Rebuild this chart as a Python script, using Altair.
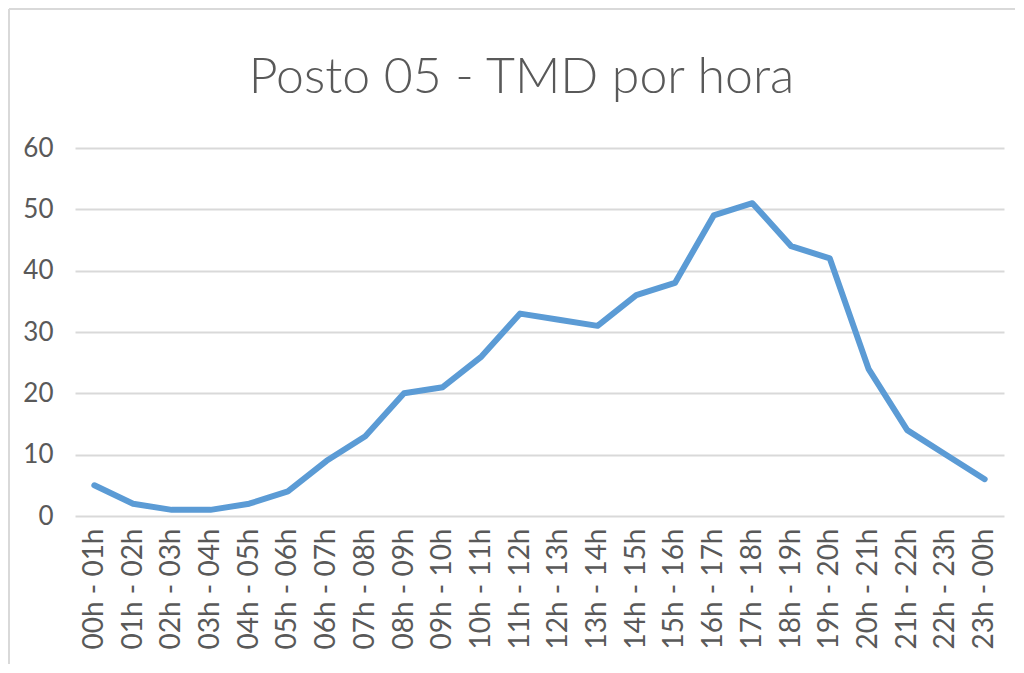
import altair as alt
import pandas as pd

hours = ["00h - 01h", "01h - 02h", "02h - 03h", "03h - 04h", "04h - 05h", "05h - 06h",
         "06h - 07h", "07h - 08h", "08h - 09h", "09h - 10h", "10h - 11h", "11h - 12h",
         "12h - 13h", "13h - 14h", "14h - 15h", "15h - 16h", "16h - 17h", "17h - 18h",
         "18h - 19h", "19h - 20h", "20h - 21h", "21h - 22h", "22h - 23h", "23h - 00h"]
tmd = [5, 2, 1, 1, 2, 4, 9, 13, 20, 21, 26, 33, 32, 31, 36, 38, 49, 51, 44, 42, 24, 14, 10, 6]

df = pd.DataFrame({"hora": hours, "tmd": tmd})

FONT = "Lato"
GREY = "#595959"
BORDER = "#d9d9d9"

line = alt.Chart(df).mark_line(color="#5b9bd5", strokeWidth=6, strokeCap="round", strokeJoin="round").encode(
    x=alt.X("hora:N", sort=hours, title=None,
            axis=alt.Axis(labelAngle=-90, labelFontSize=28, labelColor=GREY, labelFont=FONT,
                          ticks=False, domain=False, labelPadding=12, labelBaseline="middle", labelAlign="right")),
    y=alt.Y("tmd:Q", title=None, scale=alt.Scale(domain=[0, 60]),
            axis=alt.Axis(values=[0, 10, 20, 30, 40, 50, 60], labelFontSize=26, labelColor=GREY,
                          labelFont=FONT, ticks=False, domain=False, labelPadding=22,
                          gridColor=BORDER, gridWidth=2)),
)

one = pd.DataFrame({"a": [0]})
left_edge = alt.Chart(one).mark_rule(color=BORDER, strokeWidth=2).encode(
    x=alt.value(-66), y=alt.value(-139), y2=alt.value(516)
)
top_edge = alt.Chart(one).mark_rule(color=BORDER, strokeWidth=2).encode(
    x=alt.value(-66), x2=alt.value(940), y=alt.value(-139)
)

chart = alt.layer(left_edge, top_edge, line).properties(
    width=929, height=368,
    title=alt.TitleParams("Posto 05 - TMD por hora", fontSize=50, font=FONT, fontWeight=300,
                          color=GREY, anchor="middle", offset=-95, dx=-18),
    autosize=alt.AutoSizeParams(type="none"),
    padding={"left": 67, "top": 140, "right": 12, "bottom": 149},
).configure_view(stroke=None)

chart.save("out.html", embed_options={"renderer": "svg", "actions": False})
